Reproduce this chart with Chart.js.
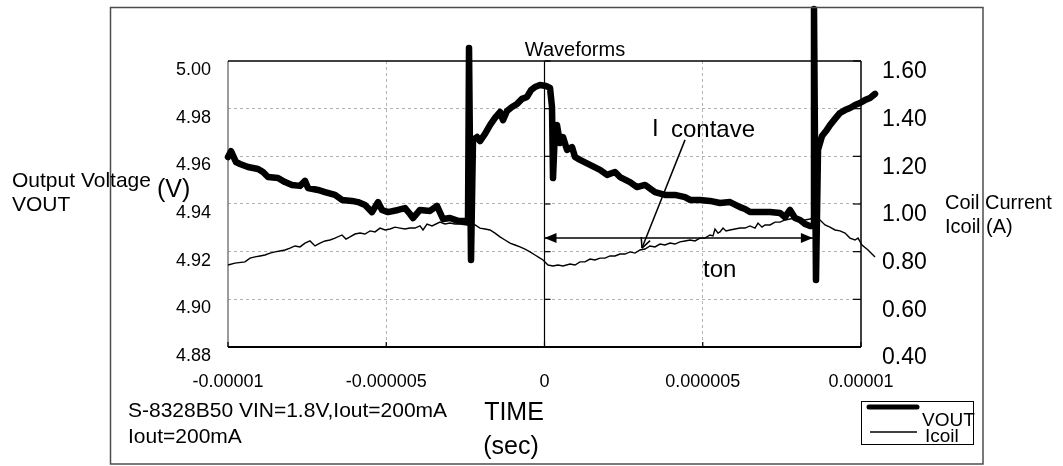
<!DOCTYPE html>
<html>
<head>
<meta charset="utf-8">
<title>Waveforms</title>
<script src="https://cdn.jsdelivr.net/npm/chart.js@4.4.1/dist/chart.umd.min.js"></script>
<style>
  body { margin: 0; background: #fff; }
  #wrap { width: 1063px; height: 466px; }
</style>
</head>
<body>
<div id="wrap"><canvas id="waveChart" width="1063" height="466"></canvas></div>
<script>
// time in microseconds (converted to seconds for the axis)
const voutTime = [-10.000, -9.905, -9.747, -9.621, -9.368, -9.052, -8.894, -8.736, -8.420, -8.199,
    -7.978, -7.725, -7.567, -7.472, -7.156, -6.935, -6.619, -6.398, -6.082, -5.893,
    -5.671, -5.450, -5.261, -5.134, -4.945, -4.629, -4.407, -4.250, -4.155, -3.934,
    -3.618, -3.397, -3.207, -2.986, -2.733, -2.480, -2.417, -2.385, -2.322, -2.259,
    -2.133, -2.038, -1.880, -1.722, -1.564, -1.406, -1.311, -1.185, -1.027, -0.869,
    -0.711, -0.553, -0.426, -0.300, -0.142, 0.048, 0.174, 0.237, 0.269, 0.332,
    0.395, 0.490, 0.585, 0.711, 0.869, 0.964, 1.122, 1.438, 1.754, 1.977,
    2.228, 2.386, 2.702, 2.923, 3.176, 3.491, 3.807, 4.123, 4.439, 4.598,
    4.913, 5.229, 5.545, 5.861, 6.177, 6.335, 6.493, 6.809, 7.125, 7.441,
    7.599, 7.757, 7.915, 8.073, 8.231, 8.389, 8.484, 8.515, 8.578, 8.642,
    8.768, 8.894, 9.020, 9.178, 9.336, 9.495, 9.653, 9.811, 9.969, 10.127,
    10.285, 10.443];
const voutValues = [4.9597, 4.9622, 4.9576, 4.9568, 4.9555, 4.9547, 4.9534, 4.9513, 4.9509, 4.9492,
    4.9480, 4.9476, 4.9497, 4.9467, 4.9459, 4.9450, 4.9438, 4.9417, 4.9413, 4.9408,
    4.9396, 4.9366, 4.9408, 4.9375, 4.9366, 4.9375, 4.9383, 4.9358, 4.9341, 4.9375,
    4.9371, 4.9392, 4.9337, 4.9341, 4.9329, 4.9329, 4.9324, 5.0055, 4.9165, 4.9669,
    4.9681, 4.9664, 4.9694, 4.9731, 4.9761, 4.9786, 4.9752, 4.9790, 4.9807, 4.9820,
    4.9841, 4.9849, 4.9878, 4.9891, 4.9899, 4.9895, 4.9887, 4.9807, 4.9509, 4.9710,
    4.9731, 4.9656, 4.9681, 4.9627, 4.9639, 4.9597, 4.9585, 4.9564, 4.9543, 4.9522,
    4.9534, 4.9513, 4.9492, 4.9471, 4.9480, 4.9450, 4.9438, 4.9438, 4.9429, 4.9417,
    4.9417, 4.9413, 4.9404, 4.9408, 4.9387, 4.9379, 4.9366, 4.9366, 4.9366, 4.9362,
    4.9345, 4.9375, 4.9341, 4.9333, 4.9316, 4.9308, 4.9308, 5.0218, 4.9081, 4.9627,
    4.9685, 4.9706, 4.9731, 4.9757, 4.9782, 4.9794, 4.9803, 4.9815, 4.9824, 4.9836,
    4.9845, 4.9862];

const icoilTime = [-10.000, -9.779, -9.463, -9.305, -9.147, -8.989, -8.831, -8.673, -8.515, -8.357,
    -8.199, -8.041, -7.883, -7.725, -7.567, -7.409, -7.251, -7.093, -6.935, -6.777,
    -6.619, -6.398, -6.272, -6.145, -5.987, -5.829, -5.671, -5.513, -5.355, -5.197,
    -5.039, -4.881, -4.723, -4.565, -4.407, -4.250, -4.092, -3.934, -3.839, -3.712,
    -3.554, -3.302, -3.144, -2.986, -2.828, -2.670, -2.448, -2.354, -2.196, -2.038,
    -1.880, -1.722, -1.564, -1.406, -1.248, -1.090, -0.932, -0.774, -0.616, -0.458,
    -0.300, -0.142, -0.047, 0.111, 0.269, 0.427, 0.585, 0.806, 0.964, 1.122,
    1.280, 1.438, 1.596, 1.754, 1.912, 2.070, 2.228, 2.386, 2.544, 2.702,
    2.860, 3.018, 3.176, 3.334, 3.491, 3.650, 3.807, 3.966, 4.123, 4.281,
    4.439, 4.598, 4.755, 4.913, 5.071, 5.229, 5.324, 5.387, 5.482, 5.545,
    5.640, 5.735, 5.861, 6.019, 6.177, 6.335, 6.493, 6.651, 6.746, 6.872,
    6.967, 7.125, 7.283, 7.441, 7.599, 7.757, 7.915, 8.073, 8.231, 8.389,
    8.547, 8.705, 8.863, 9.020, 9.178, 9.336, 9.495, 9.653, 9.811, 9.906,
    10.032, 10.222, 10.443];
const icoilValues = [0.744, 0.752, 0.757, 0.773, 0.778, 0.782, 0.786, 0.794, 0.799, 0.803,
    0.807, 0.815, 0.824, 0.820, 0.836, 0.845, 0.824, 0.836, 0.845, 0.849,
    0.857, 0.870, 0.853, 0.862, 0.874, 0.878, 0.874, 0.887, 0.883, 0.899,
    0.891, 0.895, 0.903, 0.899, 0.895, 0.899, 0.899, 0.908, 0.891, 0.916,
    0.908, 0.924, 0.916, 0.920, 0.916, 0.916, 0.912, 0.924, 0.912, 0.899,
    0.895, 0.891, 0.878, 0.862, 0.849, 0.836, 0.828, 0.820, 0.811, 0.799,
    0.786, 0.773, 0.765, 0.744, 0.740, 0.744, 0.740, 0.748, 0.744, 0.757,
    0.757, 0.769, 0.765, 0.773, 0.773, 0.782, 0.782, 0.790, 0.790, 0.799,
    0.794, 0.807, 0.811, 0.824, 0.820, 0.832, 0.828, 0.836, 0.832, 0.841,
    0.845, 0.849, 0.845, 0.857, 0.857, 0.870, 0.866, 0.895, 0.878, 0.883,
    0.899, 0.887, 0.891, 0.895, 0.899, 0.899, 0.908, 0.899, 0.920, 0.903,
    0.912, 0.912, 0.924, 0.924, 0.933, 0.937, 0.941, 0.937, 0.933, 0.937,
    0.945, 0.933, 0.912, 0.903, 0.891, 0.887, 0.878, 0.857, 0.849, 0.857,
    0.828, 0.807, 0.778];

const xTicks = [-0.00001, -0.000005, 0, 0.000005, 0.00001];
const xTickLabels = ['-0.00001', '-0.000005', '0', '0.000005', '0.00001'];
const voltTicks = [4.88, 4.90, 4.92, 4.94, 4.96, 4.98, 5.00];
const currentTicks = [0.40, 0.60, 0.80, 1.00, 1.20, 1.40, 1.60];

// annotation anchors, in data units
const tonStart = 0, tonEnd = 8.48e-6, tonLevel = 0.857;
const contaveFrom = { x: 4.44e-6, y: 1.269 };
const contaveTo = { x: 3.08e-6, y: 0.815 };

const FONT = '"Liberation Sans", Arial, sans-serif';

function line(ctx, x1, y1, x2, y2) {
    ctx.beginPath();
    ctx.moveTo(x1, y1);
    ctx.lineTo(x2, y2);
    ctx.stroke();
}

function label(ctx, str, x, y, size, align) {
    ctx.font = size + 'px ' + FONT;
    ctx.textAlign = align || 'left';
    ctx.textBaseline = 'middle';
    ctx.fillStyle = '#000';
    ctx.fillText(str, x, y);
}

const decorations = {
    id: 'decorations',
    beforeDatasetsDraw(chart) {
        const { ctx, chartArea: a, scales } = chart;
        const xs = scales.x, yv = scales.yVolt;
        ctx.save();
        ctx.lineWidth = 1.5;
        ctx.strokeStyle = '#7a7a7a';
        line(ctx, a.left, a.top, a.left, a.bottom);
        ctx.strokeStyle = '#000';
        line(ctx, a.left, a.top, a.right, a.top);
        line(ctx, a.right, a.top, a.right, a.bottom);
        ctx.lineWidth = 2;
        line(ctx, a.left, a.bottom, a.right, a.bottom);

        // axis crossing at t = 0
        const x0 = xs.getPixelForValue(0);
        ctx.lineWidth = 1.2;
        line(ctx, x0, a.top, x0, a.bottom);

        // small inner tick marks
        voltTicks.forEach(v => {
            const py = yv.getPixelForValue(v);
            line(ctx, x0, py, x0 + 6, py);
            line(ctx, a.right - 8, py, a.right, py);
        });
        xTicks.forEach(t => {
            const px = xs.getPixelForValue(t);
            line(ctx, px, a.bottom - 5, px, a.bottom);
        });
        ctx.restore();
    },
    afterDraw(chart) {
        const { ctx, scales } = chart;
        const xs = scales.x, yc = scales.yCurrent;
        ctx.save();

        // outer frame
        ctx.strokeStyle = '#4d4d4d';
        ctx.lineWidth = 1.5;
        ctx.strokeRect(110.5, 7.5, 872.5, 456.5);

        label(ctx, 'Waveforms', 575, 50, 20, 'center');
        label(ctx, 'Output Voltage', 12, 181, 21);
        label(ctx, 'VOUT', 12, 205, 21);
        label(ctx, '(V)', 157, 190, 25);
        label(ctx, 'Coil Current', 945, 203, 20);
        label(ctx, 'Icoil (A)', 945, 227, 20);
        label(ctx, 'I', 652, 129, 24);
        label(ctx, 'contave', 671, 130, 24);
        label(ctx, 'ton', 703, 270, 24);
        label(ctx, 'S-8328B50 VIN=1.8V,Iout=200mA', 128, 411, 21);
        label(ctx, 'Iout=200mA', 128, 437, 21);
        label(ctx, 'TIME', 514, 413, 25, 'center');
        label(ctx, '(sec)', 511, 447, 25, 'center');

        // ton double arrow
        ctx.strokeStyle = '#000';
        ctx.fillStyle = '#000';
        ctx.lineWidth = 1.5;
        const ty = yc.getPixelForValue(tonLevel);
        const tx1 = xs.getPixelForValue(tonStart);
        const tx2 = xs.getPixelForValue(tonEnd);
        line(ctx, tx1, ty, tx2, ty);
        ctx.beginPath();
        ctx.moveTo(tx1, ty); ctx.lineTo(tx1 + 12, ty - 5); ctx.lineTo(tx1 + 12, ty + 5); ctx.closePath();
        ctx.fill();
        ctx.beginPath();
        ctx.moveTo(tx2, ty); ctx.lineTo(tx2 - 12, ty - 5); ctx.lineTo(tx2 - 12, ty + 5); ctx.closePath();
        ctx.fill();

        // I contave pointer
        const px1 = xs.getPixelForValue(contaveFrom.x), py1 = yc.getPixelForValue(contaveFrom.y);
        const px2 = xs.getPixelForValue(contaveTo.x), py2 = yc.getPixelForValue(contaveTo.y);
        line(ctx, px1, py1, px2, py2);
        const ang = Math.atan2(py2 - py1, px2 - px1);
        [0.45, -0.45].forEach(d => {
            line(ctx, px2, py2, px2 - 11 * Math.cos(ang + d), py2 - 11 * Math.sin(ang + d));
        });

        // legend
        ctx.lineWidth = 1;
        ctx.strokeRect(861.5, 401.5, 112, 43);
        ctx.lineCap = 'round';
        ctx.lineWidth = 5;
        line(ctx, 869, 407, 917, 407);
        ctx.lineCap = 'butt';
        ctx.lineWidth = 1.5;
        line(ctx, 870, 432, 917, 432);
        label(ctx, 'VOUT', 922, 421, 19);
        label(ctx, 'Icoil', 925, 437, 19);

        ctx.restore();
    }
};

const edgeOrZero = v => Math.abs(v) < 1e-12 || Math.abs(Math.abs(v) - 0.00001) < 1e-12;

const ctx = document.getElementById('waveChart').getContext('2d');
const waveChart = new Chart(ctx, {
    type: 'line',
    data: {
        datasets: [
            {
                label: 'VOUT',
                data: voutTime.map((t, i) => ({ x: t * 1e-6, y: voutValues[i] })),
                yAxisID: 'yVolt',
                borderColor: '#000',
                borderWidth: 6.5,
                borderJoinStyle: 'round',
                borderCapStyle: 'round',
                pointRadius: 0,
                tension: 0,
                clip: false
            },
            {
                label: 'Icoil',
                data: icoilTime.map((t, i) => ({ x: t * 1e-6, y: icoilValues[i] })),
                yAxisID: 'yCurrent',
                borderColor: '#000',
                borderWidth: 1.4,
                pointRadius: 0,
                tension: 0,
                clip: false
            }
        ]
    },
    options: {
        responsive: false,
        animation: false,
        events: [],
        layout: { padding: { top: 61, left: 0, right: 0, bottom: 0 } },
        plugins: {
            legend: { display: false },
            tooltip: { enabled: false }
        },
        scales: {
            x: {
                type: 'linear',
                bounds: 'data',
                // range set here (not via min/max) so the traces run past the right frame
                afterDataLimits: s => { s.min = xTicks[0]; s.max = xTicks[xTicks.length - 1]; },
                afterBuildTicks: s => { s.ticks = xTicks.map(v => ({ value: v })); },
                afterFit: s => { s.height = 119; },
                ticks: {
                    callback: (v, i) => xTickLabels[i],
                    color: '#000',
                    font: { size: 18, family: FONT },
                    padding: 24,
                    maxRotation: 0,
                    autoSkip: false
                },
                grid: {
                    color: c => (c.tick && !edgeOrZero(c.tick.value)) ? '#b3b3b3' : 'rgba(0,0,0,0)',
                    lineWidth: 1,
                    drawTicks: false
                },
                border: { display: false, dash: [3, 3] }
            },
            yVolt: {
                type: 'linear',
                position: 'left',
                min: 4.88,
                max: 5.00,
                afterBuildTicks: s => { s.ticks = voltTicks.map(v => ({ value: v })); },
                afterFit: s => { s.width = 228; },
                ticks: {
                    callback: v => v.toFixed(2),
                    color: '#000',
                    font: { size: 18, family: FONT },
                    padding: 17,
                    labelOffset: 9
                },
                grid: {
                    color: c => (c.tick && c.tick.value > 4.881 && c.tick.value < 4.999) ? '#b3b3b3' : 'rgba(0,0,0,0)',
                    lineWidth: 1,
                    drawTicks: false
                },
                border: { display: false, dash: [3, 3] }
            },
            yCurrent: {
                type: 'linear',
                position: 'right',
                min: 0.4,
                max: 1.6,
                afterBuildTicks: s => { s.ticks = currentTicks.map(v => ({ value: v })); },
                afterFit: s => { s.width = 202; },
                ticks: {
                    callback: v => v.toFixed(2),
                    color: '#000',
                    font: { size: 23, family: FONT },
                    padding: 21,
                    labelOffset: 11
                },
                grid: { display: false, drawTicks: false },
                border: { display: false }
            }
        }
    },
    plugins: [decorations]
});
</script>
</body>
</html>
